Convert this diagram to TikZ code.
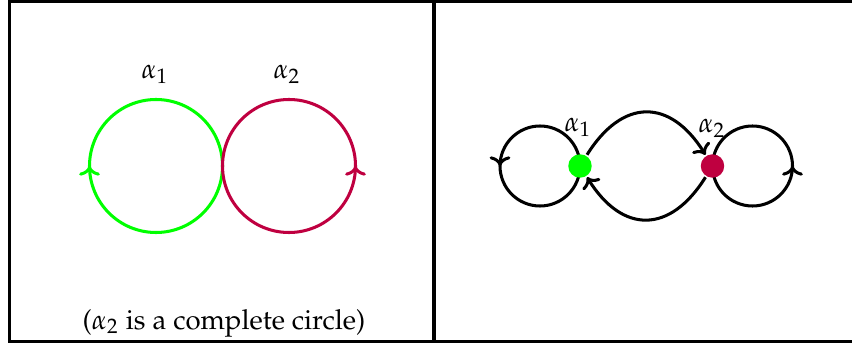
\documentclass[tikz,border=0pt]{standalone}
\usepackage[T1]{fontenc}
\usepackage{mathpazo}
\usepackage{tikz}
\usetikzlibrary{positioning,arrows.meta,decorations.markings,backgrounds}
\definecolor{AlphaOne}{rgb}{0,1,0}
\definecolor{AlphaTwo}{rgb}{0.75,0,0.25}

\tikzset{
	cmtip/.tip={Computer Modern Rightarrow[width=7.5pt,length=3.5pt]},
	midarrow/.style={postaction={decorate},
		decoration={markings,mark=at position #1 with {\arrow{cmtip}}}},
	midarrow/.default=0.5,
	vertexdot/.style={circle,inner sep=0pt,minimum size=8.5pt},
	edgeline/.style={line width=1.1pt}
}

\begin{document}
\begin{tikzpicture}[x=0.3623pt,y=0.3623pt,line width=1.1pt]
	\useasboundingbox (0,0) rectangle (852,347);
	% table rules
	\draw (853,346) -- (9.5,346) -- (9.5,5.5) -- (853,5.5);
	\draw (434,346) -- (434,5.5);
	
	% left cell: the two circles
	\draw[AlphaOne,midarrow] (222.5,181) arc[start angle=0,delta angle=-360,radius=66.5];
	\draw[AlphaTwo,midarrow] (222.5,181) arc[start angle=180,delta angle=360,radius=66.5];
	\node (labOne) at (155,273) {$\alpha_1$};
	\node (labTwo) at (287,273) {$\alpha_2$};
	\node (caption) at (224,24) {($\alpha_2$ is a complete circle)};
	
	% right cell: the graph
	\node[vertexdot,fill=AlphaOne] (v1) at (580,181) {};
	\node[vertexdot,fill=AlphaTwo] (v2) at (712.5,181) {};
	\node (v1lab) at (578,220) {$\alpha_1$};
	\node (v2lab) at (712,219) {$\alpha_2$};
	\begin{scope}[on background layer]
		\draw[edgeline,midarrow] (v1.center) arc[start angle=0,delta angle=360,radius=40];
		\draw[edgeline,midarrow] (v2.center) arc[start angle=180,delta angle=360,radius=40];
		\draw[edgeline,-cmtip] (v1) to[out=58,in=122,looseness=1.45] (v2);
		\draw[edgeline,-cmtip] (v2) to[out=-122,in=-58,looseness=1.45] (v1);
	\end{scope}
\end{tikzpicture}
\end{document}
